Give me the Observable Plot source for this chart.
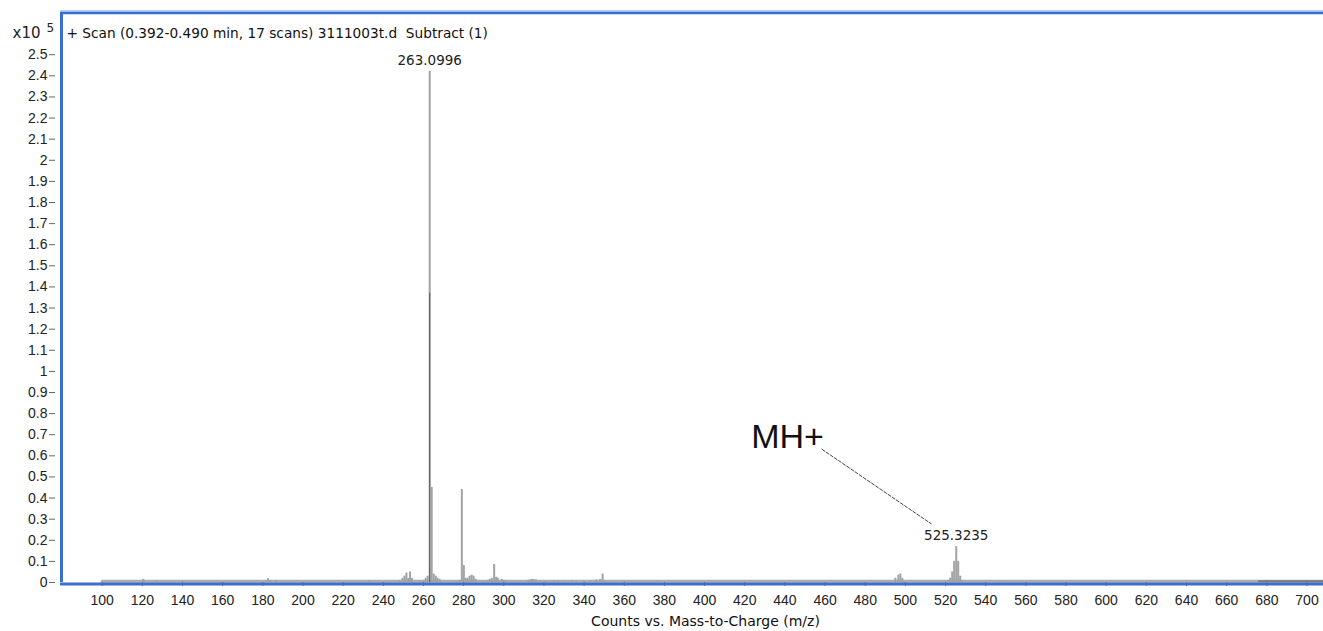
<!DOCTYPE html>
<html><head><meta charset="utf-8">
<script src="https://cdn.jsdelivr.net/npm/d3@7"></script>
<script src="https://cdn.jsdelivr.net/npm/@observablehq/plot@0.6"></script>
<style>
html,body{margin:0;padding:0;background:#fff;overflow:hidden}
#chart svg{display:block}
</style></head><body><div id="chart"></div>
<script>
// Spectrum peaks: m/z and intensity (x10^5 counts)
const peakMz  = [120.5,127,140,182.6,184,186.5,233,248,249.5,250.5,251.5,252.5,253.3,254.3,258,260,261.1,262.1,263.0996,264.1,265.1,266.1,267,268,276,278,279.1,280.1,281,282,283,284,285,286,290,292,293,294,295.2,296.2,297,299,300,301,308,312,313,314,315,316,318,321,325,327,330,334,336,340,343,346,348,349.2,350.2,360,377,495,496.5,497.5,498.5,521,522.3,523.3,524.3,525.3235,526.3,527.3,528.3,547];
const peakInt = [0.015,0.01,0.008,0.018,0.01,0.01,0.01,0.01,0.02,0.03,0.045,0.02,0.05,0.02,0.008,0.01,0.02,0.03,2.42,0.45,0.04,0.03,0.02,0.015,0.005,0.01,0.44,0.08,0.02,0.02,0.03,0.035,0.03,0.015,0.005,0.01,0.015,0.02,0.085,0.025,0.02,0.015,0.01,0.01,0.005,0.01,0.012,0.015,0.013,0.012,0.008,0.005,0.005,0.005,0.005,0.008,0.005,0.005,0.006,0.012,0.015,0.04,0.01,0.004,0.008,0.02,0.035,0.04,0.02,0.01,0.02,0.05,0.10,0.17,0.10,0.03,0.01,0.005];
// Overlapping scan trace inside the base peak
const overlapMz  = [263.0996];
const overlapInt = [1.37];
// Noise baseline
const baseMz  = [100, 708.2];
const baseInt = [0.006, 0.006];
const darkBaseMz  = [676, 708.2];
const darkBaseInt = [0.006, 0.006];
// Labelled peaks
const labelMz   = [263.0996, 525.3235];
const labelInt  = [2.42, 0.17];
const labelText = ["263.0996", "525.3235"];
// MH+ annotation
const annotText = ["MH+"];
const annotMz   = [441.3];
const annotInt  = [0.689];
const leaderMz1 = [458.3], leaderInt1 = [0.632];
const leaderMz2 = [513.0], leaderInt2 = [0.277];
// Ticks
const xTicks = [100,120,140,160,180,200,220,240,260,280,300,320,340,360,380,400,420,440,460,480,500,520,540,560,580,600,620,640,660,680,700];
const yTicks = [0,0.1,0.2,0.3,0.4,0.5,0.6,0.7,0.8,0.9,1,1.1,1.2,1.3,1.4,1.5,1.6,1.7,1.8,1.9,2,2.1,2.2,2.3,2.4,2.5];
const scanTitle = "+ Scan (0.392-0.490 min, 17 scans) 3111003t.d  Subtract (1)";
const yUnit = "x10";
const yExp = "5";
const xTitle = "Counts vs. Mass-to-Charge (m/z)";

const peaks = peakMz.map((m, i) => ({mz: m, v: peakInt[i]}));
const overlap = overlapMz.map((m, i) => ({mz: m, v: overlapInt[i]}));
const base = baseMz.map((m, i) => ({mz: m, v: baseInt[i]}));
const darkBase = darkBaseMz.map((m, i) => ({mz: m, v: darkBaseInt[i]}));
const labels = labelMz.map((m, i) => ({mz: m, v: labelInt[i], t: labelText[i]}));
const annot = annotMz.map((m, i) => ({mz: m, v: annotInt[i], t: annotText[i]}));
const leader = leaderMz1.map((m, i) => ({x1: m, y1: leaderInt1[i], x2: leaderMz2[i], y2: leaderInt2[i]}));

const blue = "#3a6fd2";
const wide = "'DejaVu Sans', Verdana, sans-serif";
const xMin = 79.23, xMax = 708.22, yMax = 2.7;

const chart = Plot.plot({
  width: 1323, height: 631,
  marginLeft: 60, marginRight: 0, marginTop: 12, marginBottom: 49,
  style: {fontFamily: "'Liberation Sans', Arial, sans-serif", fontSize: "14px", color: "#222", background: "#fff", overflow: "visible"},
  x: {domain: [xMin, xMax]},
  y: {domain: [0, yMax]},
  marks: [
    Plot.lineY(base, {x: "mz", y: "v", stroke: "#ababab", strokeWidth: 3}),
    Plot.lineY(darkBase, {x: "mz", y: "v", stroke: "#7a7a7a", strokeWidth: 2}),
    Plot.ruleX(peaks, {x: "mz", y1: 0, y2: "v", stroke: "#a2a2a2", strokeWidth: 2}),
    Plot.ruleX(overlap, {x: "mz", y1: 0, y2: "v", stroke: "#5a5a5a", strokeWidth: 1}),
    Plot.text(labels, {x: "mz", y: "v", text: "t", dy: -11, lineAnchor: "middle", fontFamily: wide, fontSize: 13.5, fill: "#222"}),
    Plot.text(annot, {x: "mz", y: "v", text: "t", lineAnchor: "middle", fontSize: 34, fill: "#111"}),
    Plot.link(leader, {x1: "x1", y1: "y1", x2: "x2", y2: "y2", stroke: "#444", strokeWidth: 1, strokeDasharray: "4,1"}),
    Plot.axisX({ticks: xTicks, tickSize: 4, tickPadding: 9, stroke: "#666", fill: "#222", label: null, tickFormat: d => String(d)}),
    Plot.axisY({ticks: yTicks, tickSize: 6, tickPadding: 2, dx: -5, stroke: "#666", fill: "#222", label: null, tickFormat: d => String(+d.toFixed(1))}),
    Plot.ruleY([yMax], {stroke: "#a9c2ee", strokeWidth: 1.5, dy: -1.5}),
    Plot.ruleY([yMax], {stroke: blue, strokeWidth: 2.5, dy: 0.5}),
    Plot.ruleY([0], {stroke: blue, strokeWidth: 3, dy: 1.5}),
    Plot.ruleX([xMin], {stroke: blue, strokeWidth: 3, dx: 1, y1: 0, y2: yMax}),
    Plot.text([scanTitle], {text: d => d, frameAnchor: "top-left", dx: 6, dy: 21, textAnchor: "start", lineAnchor: "middle", fontFamily: wide, fontSize: 13.7, fill: "#111"}),
    Plot.text([yUnit], {text: d => d, frameAnchor: "top-left", dx: -48, dy: 21, textAnchor: "start", lineAnchor: "middle", fontFamily: wide, fontSize: 15, fill: "#222"}),
    Plot.text([yExp], {text: d => d, frameAnchor: "top-left", dx: -14, dy: 16, textAnchor: "start", lineAnchor: "middle", fontFamily: wide, fontSize: 12, fill: "#222"}),
    Plot.text([xTitle], {text: d => d, frameAnchor: "bottom", dx: 13.5, dy: 39, lineAnchor: "middle", fontFamily: wide, fontSize: 14, fill: "#111"})
  ]
});
document.getElementById("chart").append(chart);
</script></body></html>
